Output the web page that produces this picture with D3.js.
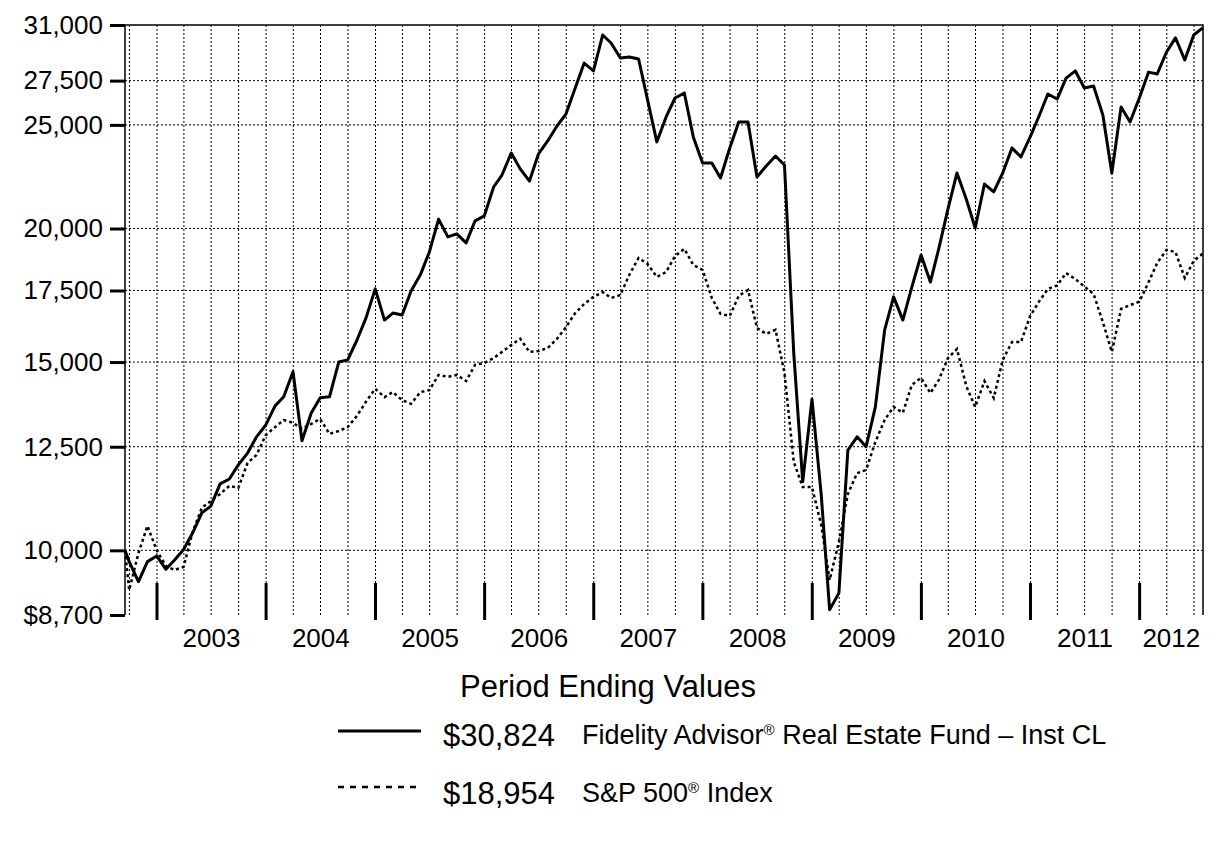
<!DOCTYPE html>
<html>
<head>
<meta charset="utf-8">
<script src="https://d3js.org/d3.v7.min.js"></script>
<style>
  body { margin: 0; background: #fff; }
  text { font-family: "Liberation Sans", Arial, Helvetica, sans-serif; fill: #000; }
</style>
</head>
<body>
<svg id="chart" width="1226" height="851"></svg>

<script>
// ---------------- data ----------------
// first point is the start date, after that one value per month end (Sep 2002 .. Jul 2012)
const startDate = "2002-09-16";
const endDate = "2012-07-31";

const fundValues = [
  10000, 9760, 9350, 9760, 9880,
  9600, 9790, 10020, 10380, 10840, 11000, 11540, 11660, 12020, 12330, 12770, 13100,
  13650, 13920, 14690, 12660, 13440, 13890, 13920, 15000, 15070, 15730, 16490, 17560,
  16420, 16670, 16600, 17480, 18100, 19010, 20410, 19640, 19770, 19390, 20330, 20550,
  21870, 22440, 23530, 22740, 22150, 23480, 24150, 24940, 25590, 27070, 28560, 28080,
  30340, 29820, 28870, 28940, 28810, 26380, 24100, 25430, 26490, 26780, 24360, 23030,
  23030, 22300, 23790, 25160, 25160, 22350, 22880, 23380, 22930, 15300, 11590, 13850,
  11270, 8800, 9120, 12410, 12770, 12500, 13620, 16070, 17260, 16420, 17630, 18890,
  17820, 19140, 20860, 22540, 21310, 20020, 22010, 21640, 22540, 23790, 23330, 24360,
  25540, 26720, 26430, 27650, 28080, 27070, 27180, 25540, 22540, 25980, 25160, 26490,
  28010, 27900, 29250, 30150, 28750, 30340, 30824
];

const spValues = [
  10000, 9180, 9940, 10540, 10000,
  9670, 9585, 9650, 10400, 10960, 11120, 11290, 11490, 11440, 12070, 12280, 12820,
  13040, 13240, 13160, 12990, 13130, 13270, 12850, 12930, 13040, 13360, 13770, 14160,
  13910, 14060, 13820, 13710, 14060, 14120, 14590, 14530, 14590, 14400, 14910, 14970,
  15130, 15330, 15560, 15770, 15330, 15360, 15460, 15770, 16170, 16670, 17000, 17260,
  17440, 17220, 17330, 18100, 18770, 18530, 18020, 18210, 18850, 19140, 18490, 18290,
  17220, 16640, 16570, 17300, 17520, 16140, 15940, 16080, 14650, 12100, 11460, 11460,
  10560, 9380, 10180, 11290, 11810, 11890, 12630, 13240, 13620, 13450, 14280, 14500,
  14030, 14430, 15130, 15430, 14250, 13620, 14400, 13880, 15070, 15660, 15660, 16570,
  17110, 17560, 17690, 18170, 17940, 17650, 17370, 16350, 15330, 16820, 16960, 17080,
  17820, 18570, 19100, 19010, 17980, 18650, 18954
];

const yTicks = [8700, 10000, 12500, 15000, 17500, 20000, 25000, 27500, 31000];
const yTickLabels = ["$8,700", "10,000", "12,500", "15,000", "17,500", "20,000", "25,000", "27,500", "31,000"];
const yearLabels = ["2003", "2004", "2005", "2006", "2007", "2008", "2009", "2010", "2011", "2012"];

const legendTitle = "Period Ending Values";
const legendValues = ["$30,824", "$18,954"];
const legendNames = [
  ["Fidelity Advisor", "®", " Real Estate Fund \u2013 Inst CL"],
  ["S&P 500", "®", " Index"]
];

// ---------------- setup ----------------
const svg = d3.select("#chart");
const plotLeft = 125, plotRight = 1203, plotTop = 25, plotBottom = 615;

const parse = d3.timeParse("%Y-%m-%d");
const t0 = parse(startDate), t1 = parse(endDate);

// dates: start, then every month end
const monthEnds = d3.timeMonth.range(new Date(2002, 9, 1), new Date(2012, 7, 2))
  .map(d => d3.timeDay.offset(d, -1));
const dates = [t0].concat(monthEnds);

const fund = dates.map((d, i) => ({date: d, value: fundValues[i]}));
const sp = dates.map((d, i) => ({date: d, value: spValues[i]}));

const x = d3.scaleTime().domain([t0, t1]).range([plotLeft, plotRight]);
const y = d3.scaleLog().domain([8700, 31000]).range([plotBottom, plotTop]);

// ---------------- grid ----------------
const grid = svg.append("g").attr("id", "grid");

// vertical dotted lines every quarter
grid.selectAll("line.v")
  .data(x.ticks(d3.timeMonth.every(3)))
  .enter().append("line")
    .attr("class", "v")
    .attr("x1", d => x(d)).attr("x2", d => x(d))
    .attr("y1", plotTop).attr("y2", plotBottom)
    .attr("stroke", "#000").attr("stroke-width", 1)
    .attr("stroke-dasharray", "2,2");

// horizontal dotted lines at inner ticks
grid.selectAll("line.h")
  .data(yTicks.slice(1, -1))
  .enter().append("line")
    .attr("class", "h")
    .attr("x1", plotLeft).attr("x2", plotRight)
    .attr("y1", d => y(d)).attr("y2", d => y(d))
    .attr("stroke", "#000").attr("stroke-width", 1)
    .attr("stroke-dasharray", "2,2");

// frame: top, left, right (no bottom line)
svg.append("path")
  .attr("d", `M${plotLeft},${plotBottom}V${plotTop}H${plotRight}V${plotBottom}`)
  .attr("fill", "none").attr("stroke", "#000").attr("stroke-width", 1.5);

// ---------------- y axis ----------------
const yAxis = svg.append("g")
  .attr("transform", `translate(${plotLeft},0)`)
  .call(d3.axisLeft(y)
    .tickValues(yTicks)
    .tickFormat((d, i) => yTickLabels[i])
    .tickSize(15)
    .tickPadding(7));
yAxis.select(".domain").remove();
yAxis.selectAll(".tick line").attr("stroke", "#000").attr("stroke-width", 3);
yAxis.selectAll(".tick text")
  .attr("font-size", 26)
  .attr("font-family", '"Liberation Sans", Arial, sans-serif')
  .attr("fill", "#000");

// ---------------- x axis (year marks) ----------------
const years = x.ticks(d3.timeYear);
svg.append("g").selectAll("line")
  .data(years)
  .enter().append("line")
    .attr("x1", d => x(d)).attr("x2", d => x(d))
    .attr("y1", 583).attr("y2", 620)
    .attr("stroke", "#000").attr("stroke-width", 3);

svg.append("g").selectAll("text")
  .data(yearLabels)
  .enter().append("text")
    .attr("x", (d, i) => {
      const a = x(years[i]);
      const b = i < years.length - 1 ? x(years[i + 1]) : plotRight;
      return (a + b) / 2;
    })
    .attr("y", 647)
    .attr("text-anchor", "middle")
    .attr("font-size", 26)
    .text(d => d);

// ---------------- lines ----------------
const line = d3.line().x(d => x(d.date)).y(d => y(d.value));

svg.append("path")
  .datum(sp)
  .attr("d", line)
  .attr("fill", "none").attr("stroke", "#000")
  .attr("stroke-width", 2.5)
  .attr("stroke-dasharray", "3,3");

svg.append("path")
  .datum(fund)
  .attr("d", line)
  .attr("fill", "none").attr("stroke", "#000")
  .attr("stroke-width", 3)
  .attr("stroke-linejoin", "round");

// ---------------- legend ----------------
svg.append("text")
  .attr("x", 608).attr("y", 697)
  .attr("text-anchor", "middle")
  .attr("font-size", 31)
  .text(legendTitle);

const rows = [
  {ly: 731, ty: 746, dash: null},
  {ly: 787, ty: 804, dash: "6,6"}
];

rows.forEach((r, i) => {
  svg.append("line")
    .attr("x1", 338).attr("x2", 421)
    .attr("y1", r.ly).attr("y2", r.ly)
    .attr("stroke", "#000")
    .attr("stroke-width", i === 0 ? 3 : 2.5)
    .attr("stroke-dasharray", r.dash);

  svg.append("text")
    .attr("x", 443).attr("y", r.ty)
    .attr("font-size", 31)
    .text(legendValues[i]);

  const t = svg.append("text")
    .attr("x", 582).attr("y", r.ty - 2)
    .attr("font-size", 27);
  t.append("tspan").text(legendNames[i][0]);
  t.append("tspan").attr("font-size", 15).attr("dy", -9).text(legendNames[i][1]);
  t.append("tspan").attr("dy", 9).text(legendNames[i][2]);
});
</script>
</body>
</html>
